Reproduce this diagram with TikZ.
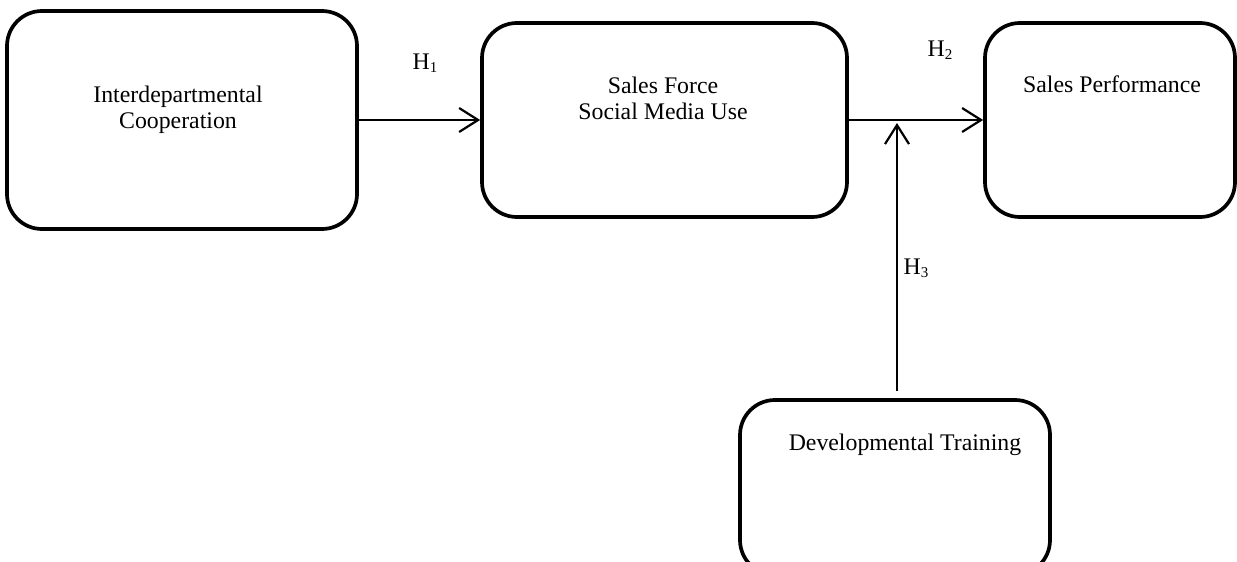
\documentclass[tikz,border=0pt]{standalone}
\usepackage{fontspec}
\setmainfont{Liberation Serif}
\usetikzlibrary{arrows.meta,calc}
\newcommand{\Hsub}[1]{H\raisebox{-0.28ex}{\fontsize{15}{15}\selectfont #1}}
\begin{document}
\begin{tikzpicture}[x=1pt,y=-1pt,
  box/.style={draw=black,line width=3.7pt,rounded corners=35pt,minimum width=#1,inner sep=0pt,fill=white},
  txt/.style={font=\fontsize{23.8}{26}\selectfont,align=center,inner sep=0pt},
  conn/.style={line width=2.2pt,-{Straight Barb[length=19pt,width=24pt,line width=2.2pt]}}]
\useasboundingbox (0,0) rectangle (1237,562);
\clip (0,0) rectangle (1237,562);
\fill[white] (0,0) rectangle (1237,562);
\node[box=350pt,minimum height=218pt] (b1) at (182,120) {};
\node[box=365pt,minimum height=194pt] (b2) at (664.5,120) {};
\node[box=250pt,minimum height=194pt] (b3) at (1110,120) {};
\node[box=310pt,minimum height=175pt] (b4) at (895,487.5) {};
\node[txt] (t1) at (178,110) {Interdepartmental\\Cooperation};
\node[txt] (t2) at (663,98.5) {Sales Force\\Social Media Use};
\node[txt] (t3) at (1112,84) {Sales Performance};
\node[txt] (t4) at (905,445) {Developmental Training};
\coordinate (m) at (897,120);
\draw[conn] (b1.east) -- (b2.west);
\draw[conn] (b2.east) -- (b3.west);
\draw[conn,shorten <=7pt] (b4.north -| m) -- ([yshift=-3pt]m);
\node[txt] (h1) at (425,63) {\Hsub{1}};
\node[txt] (h2) at (940,50) {\Hsub{2}};
\node[txt] (h3) at (916,268) {\Hsub{3}};
\end{tikzpicture}
\end{document}
